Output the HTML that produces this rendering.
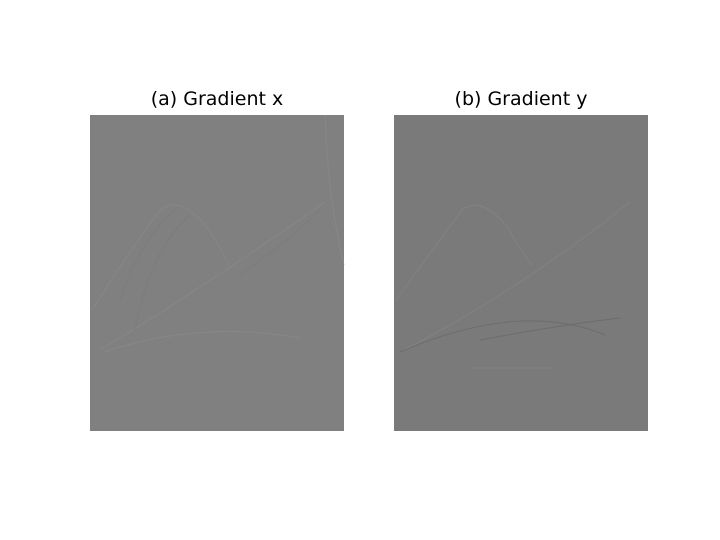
<!DOCTYPE html>
<html><head><meta charset="utf-8"><style>
body{margin:0;background:#fff;width:720px;height:540px;overflow:hidden;font-family:"DejaVu Sans","Liberation Sans",sans-serif}
.t{position:absolute;font-size:19px;line-height:22px;color:#000;text-align:center;width:254px}
</style></head><body>
<div class="t" style="left:90px;top:88px">(a) Gradient x</div>
<div class="t" style="left:394px;top:88px">(b) Gradient y</div>
<svg width="720" height="540" style="position:absolute;left:0;top:0;z-index:-1">
<g>
<rect x="90" y="115" width="254" height="316" fill="#808080"/>
<g fill="none" stroke="#8c8c8c" stroke-width="1" opacity="0.6">
<path d="M92,310 Q130,250 160,210 Q180,195 205,225 Q220,245 230,268"/>
<path d="M100,350 Q200,290 325,202"/>
<path d="M104,352 Q200,320 300,338"/>
<path d="M325,115 Q328,200 344,265"/>
</g>
<g fill="none" stroke="#767676" stroke-width="1" opacity="0.4">
<path d="M120,300 Q140,240 175,210"/>
<path d="M135,330 Q150,250 190,215"/>
<path d="M240,275 Q290,240 320,210"/>
</g>
</g>
<g>
<rect x="394" y="115" width="254" height="316" fill="#7a7a7a"/>
<g fill="none" stroke="#888888" stroke-width="1" opacity="0.6">
<path d="M396,300 Q440,240 462,210 Q482,195 508,228 Q520,250 532,265"/>
<path d="M404,350 Q520,290 630,202"/>
<path d="M470,368 L555,368"/>
</g>
<g fill="none" stroke="#606060" stroke-width="1" opacity="0.5">
<path d="M400,352 Q520,300 605,335"/>
<path d="M480,340 Q560,325 620,318"/>
</g>
</g>
</svg>
</body></html>
